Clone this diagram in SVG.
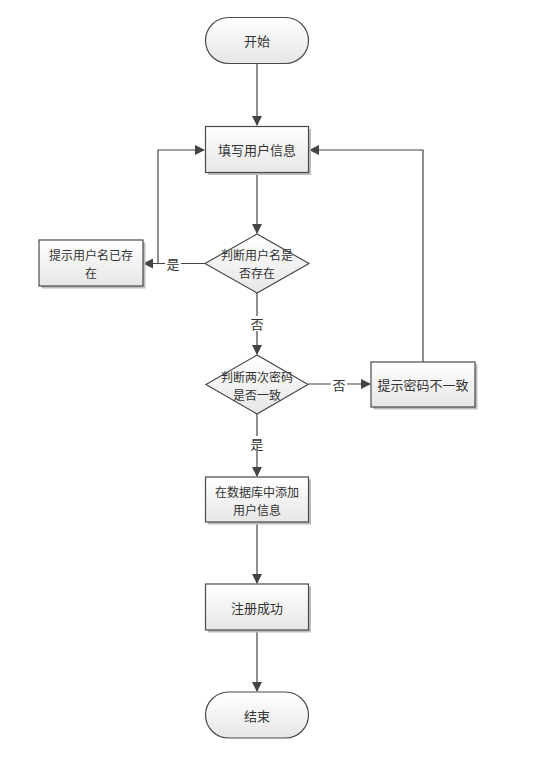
<svg xmlns="http://www.w3.org/2000/svg" width="536" height="760" viewBox="0 0 536 760">
<style>
.s{fill:url(#g);stroke:#4a4a4a;stroke-width:1.2}
.sh{fill:#bdbdbd}
.t{font-family:"Noto Sans CJK SC","Liberation Sans",sans-serif;font-size:13px;fill:#333;text-anchor:middle;dominant-baseline:central}
.m{font-size:12px}
.c{fill:none;stroke:#444;stroke-width:1.2}
.lb{fill:#fff}
</style>
<defs>
<linearGradient id="g" x1="0" y1="0" x2="0" y2="1">
<stop offset="0" stop-color="#ffffff"/>
<stop offset="1" stop-color="#e6e6e6"/>
</linearGradient>
<marker id="a" markerWidth="10" markerHeight="10" refX="9" refY="5" orient="auto" markerUnits="userSpaceOnUse">
<path d="M0,0 L10,5 L0,10 z" fill="#444"/>
</marker>
</defs>
<rect width="536" height="760" fill="#fff"/>
<g id="connectors">
<path class="c" d="M257,63 V125" marker-end="url(#a)"/>
<path class="c" d="M257,172 V233" marker-end="url(#a)"/>
<path class="c" d="M205,263.5 H144" marker-end="url(#a)"/>
<path class="c" d="M158,263.5 V150 H204" marker-end="url(#a)"/>
<path class="c" d="M257,293 V354" marker-end="url(#a)"/>
<path class="c" d="M308,384 H370" marker-end="url(#a)"/>
<path class="c" d="M423,362 V150 H310" marker-end="url(#a)"/>
<path class="c" d="M257,414 V476" marker-end="url(#a)"/>
<path class="c" d="M257,522 V583" marker-end="url(#a)"/>
<path class="c" d="M257,630 V691" marker-end="url(#a)"/>
<rect class="lb" x="165" y="256" width="16" height="15"/>
<text class="t" x="173" y="263.5">是</text>
<rect class="lb" x="249" y="316" width="16" height="15"/>
<text class="t" x="257" y="323">否</text>
<rect class="lb" x="331" y="377" width="16" height="15"/>
<text class="t" x="339" y="384">否</text>
<rect class="lb" x="249" y="436" width="16" height="15"/>
<text class="t" x="257" y="443">是</text>
</g>
<g id="start">
<rect class="s" x="205.5" y="17.5" width="103" height="46" rx="23" ry="23"/>
<text class="t" x="257" y="40.5">开始</text>
</g>
<g id="fill-info">
<rect class="sh" x="208" y="129" width="103" height="46"/>
<rect class="s" x="205.5" y="126.5" width="103" height="46"/>
<text class="t" x="257" y="149.5">填写用户信息</text>
</g>
<g id="check-user">
<path class="s" d="M205,263.5 L257,234 L309,263.5 L257,293 z"/>
<text class="t m" x="257" y="254">判断用户名是</text>
<text class="t m" x="257" y="272">否存在</text>
</g>
<g id="user-exists">
<rect class="sh" x="41.5" y="242.5" width="104" height="46"/>
<rect class="s" x="39" y="240" width="104" height="46"/>
<text class="t m" x="91" y="254">提示用户名已存</text>
<text class="t m" x="91" y="272">在</text>
</g>
<g id="check-pwd">
<path class="s" d="M206,384.5 L257,355 L308,384.5 L257,414 z"/>
<text class="t m" x="257" y="376">判断两次密码</text>
<text class="t m" x="257" y="394">是否一致</text>
</g>
<g id="pwd-mismatch">
<rect class="sh" x="373.5" y="364.5" width="104" height="45"/>
<rect class="s" x="371" y="362" width="104" height="45"/>
<text class="t" x="423" y="384.5">提示密码不一致</text>
</g>
<g id="add-db">
<rect class="sh" x="208" y="479.5" width="103" height="45"/>
<rect class="s" x="205.5" y="477" width="103" height="45"/>
<text class="t m" x="257" y="491">在数据库中添加</text>
<text class="t m" x="257" y="509">用户信息</text>
</g>
<g id="success">
<rect class="sh" x="208" y="586.5" width="103" height="46"/>
<rect class="s" x="205.5" y="584" width="103" height="46"/>
<text class="t" x="257" y="607">注册成功</text>
</g>
<g id="end">
<rect class="s" x="205.5" y="692" width="103" height="46" rx="23" ry="23"/>
<text class="t" x="257" y="715">结束</text>
</g>
</svg>
